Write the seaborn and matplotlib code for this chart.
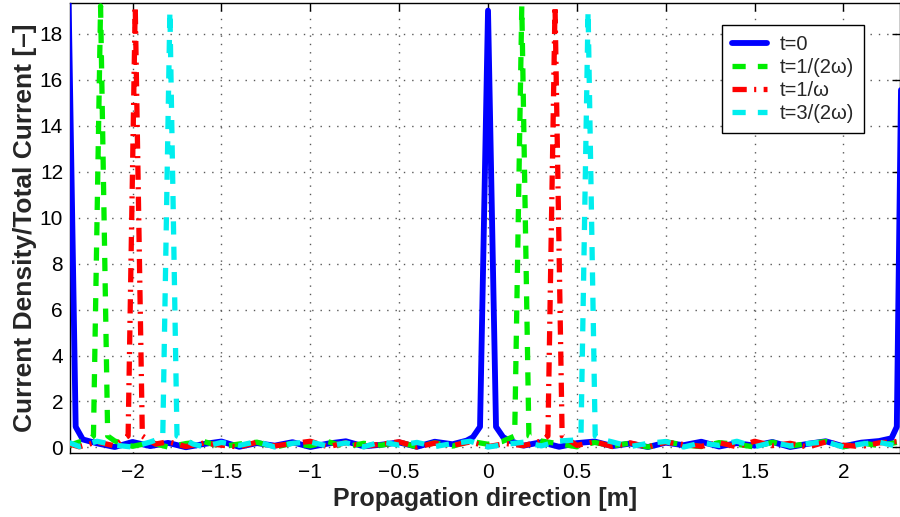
import numpy as np
import pandas as pd
import matplotlib
matplotlib.use("Agg")
import matplotlib.pyplot as plt
import seaborn as sns

# ---- data ----
labels = ["t=0", "t=1/(2\u03c9)", "t=1/\u03c9", "t=3/(2\u03c9)"]

x_t0 = [-2.36, -2.32, -2.28,
        -2.2, -2.1, -2.0, -1.9, -1.8, -1.7, -1.6, -1.5, -1.4, -1.3, -1.2,
        -1.1, -1.0, -0.9, -0.8, -0.7, -0.6, -0.5, -0.4, -0.3, -0.2,
        -0.12, -0.085, -0.045, 0.0, 0.045, 0.085, 0.12,
        0.2, 0.3, 0.4, 0.5, 0.6, 0.7, 0.8, 0.9, 1.0, 1.1, 1.2, 1.3, 1.4,
        1.5, 1.6, 1.7, 1.8, 1.9, 2.0, 2.1, 2.2,
        2.27, 2.30, 2.33]
y_t0 = [19.5, 0.9, 0.35,
        0.18, 0.02, 0.24, 0.06, 0.20, 0.01, 0.15, 0.26, 0.03, 0.19, 0.08,
        0.23, 0.02, 0.17, 0.27, 0.05, 0.12, 0.22, 0.03, 0.25, 0.14,
        0.3, 0.45, 0.9, 19.0, 0.9, 0.45, 0.3,
        0.08, 0.23, 0.03, 0.19, 0.26, 0.06, 0.17, 0.02, 0.21, 0.10, 0.25,
        0.04, 0.19, 0.08, 0.24, 0.02, 0.16, 0.27, 0.05, 0.21, 0.28,
        0.4, 0.9, 19.5]

x_t1 = [-2.36, -2.3, -2.25, -2.22, -2.18, -2.14, -2.1,
        -2.0, -1.9, -1.8, -1.7, -1.6, -1.5, -1.4, -1.3, -1.2, -1.1, -1.0,
        -0.9, -0.8, -0.7, -0.6, -0.5, -0.4, -0.3, -0.2, -0.1, 0.0,
        0.08, 0.15, 0.19, 0.23,
        0.3, 0.4, 0.5, 0.6, 0.7, 0.8, 0.9, 1.0, 1.1, 1.2, 1.3, 1.4, 1.5,
        1.6, 1.7, 1.8, 1.9, 2.0, 2.1, 2.2, 2.3]
y_t1 = [0.08, 0.24, 0.30, 0.5, 19.2, 0.5, 0.28,
        0.05, 0.21, 0.02, 0.17, 0.26, 0.04, 0.15, 0.23, 0.01, 0.19, 0.07,
        0.25, 0.03, 0.18, 0.10, 0.24, 0.02, 0.20, 0.06, 0.27, 0.14,
        0.26, 0.5, 19.2, 0.5,
        0.28, 0.16, 0.03, 0.22, 0.07, 0.19, 0.02, 0.25, 0.11, 0.04, 0.21,
        0.14, 0.02, 0.23, 0.06, 0.17, 0.26, 0.03, 0.20, 0.08, 0.22]

x_t2 = [-2.36, -2.3, -2.2, -2.1, -2.06, -2.025, -1.985, -1.945, -1.91, -1.87,
        -1.8, -1.7, -1.6, -1.5, -1.4, -1.3, -1.2, -1.1, -1.0, -0.9, -0.8,
        -0.7, -0.6, -0.5, -0.4, -0.3, -0.2, -0.1, 0.0, 0.1, 0.2,
        0.3, 0.337, 0.377, 0.417, 0.46,
        0.5, 0.6, 0.7, 0.8, 0.9, 1.0, 1.1, 1.2, 1.3, 1.4, 1.5, 1.6, 1.7,
        1.8, 1.9, 2.0, 2.1, 2.2, 2.3]
y_t2 = [0.16, 0.03, 0.24, 0.07, 0.30, 0.5, 19.2, 0.5, 0.32, 0.15,
        0.25, 0.04, 0.19, 0.10, 0.02, 0.23, 0.07, 0.17, 0.27, 0.03, 0.21,
        0.06, 0.14, 0.25, 0.02, 0.19, 0.09, 0.24, 0.04, 0.17, 0.08,
        0.28, 0.5, 19.2, 0.5, 0.30,
        0.09, 0.25, 0.04, 0.20, 0.02, 0.23, 0.13, 0.05, 0.21, 0.03, 0.27,
        0.08, 0.18, 0.02, 0.24, 0.10, 0.04, 0.20, 0.26]

x_t3 = [-2.36, -2.3, -2.2, -2.1, -2.0, -1.9, -1.86, -1.83, -1.79, -1.75,
        -1.71, -1.66,
        -1.6, -1.5, -1.4, -1.3, -1.2, -1.1, -1.0, -0.9, -0.8, -0.7, -0.6,
        -0.5, -0.4, -0.3, -0.2, -0.1, 0.0, 0.1, 0.2, 0.3, 0.4,
        0.48, 0.523, 0.563, 0.603, 0.64,
        0.7, 0.8, 0.9, 1.0, 1.1, 1.2, 1.3, 1.4, 1.5, 1.6, 1.7, 1.8, 1.9,
        2.0, 2.1, 2.2, 2.3]
y_t3 = [0.22, 0.04, 0.27, 0.10, 0.02, 0.24, 0.35, 0.5, 19.0, 0.5,
        0.35, 0.15,
        0.03, 0.22, 0.09, 0.26, 0.02, 0.18, 0.24, 0.06, 0.20, 0.03, 0.25,
        0.10, 0.22, 0.04, 0.17, 0.27, 0.02, 0.14, 0.23, 0.07, 0.28,
        0.32, 0.5, 19.0, 0.5, 0.35,
        0.24, 0.04, 0.18, 0.26, 0.02, 0.20, 0.09, 0.27, 0.03, 0.22, 0.07,
        0.17, 0.25, 0.02, 0.15, 0.23, 0.06]

x_ticks = [-2, -1.5, -1, -0.5, 0, 0.5, 1, 1.5, 2]
x_ticklabels = ["\u22122", "\u22121.5", "\u22121", "\u22120.5", "0", "0.5", "1", "1.5", "2"]
y_ticks = [0, 2, 4, 6, 8, 10, 12, 14, 16, 18]

# ---- build long-form table ----
frames = []
for lab, xs, ys in zip(labels, [x_t0, x_t1, x_t2, x_t3], [y_t0, y_t1, y_t2, y_t3]):
    frames.append(pd.DataFrame({"x": xs, "y": ys, "series": lab}))
df = pd.concat(frames, ignore_index=True)

colors = {labels[0]: "#0000ff", labels[1]: "#00ee00",
          labels[2]: "#ff0000", labels[3]: "#00eeee"}
dash_map = {labels[0]: "", labels[1]: (2.5, 2.3),
            labels[2]: (2.7, 1.4, 0.4, 1.4), labels[3]: (2.5, 2.3)}

sns.set_style("white")
plt.rcParams["font.family"] = ["Liberation Sans", "DejaVu Sans"]
plt.rcParams["axes.unicode_minus"] = True

fig = plt.figure(figsize=(9, 5.17), dpi=100)
ax = fig.add_axes([70 / 900, 1 - 453 / 517, 830 / 900, 450 / 517])

sns.lineplot(data=df, x="x", y="y", hue="series", style="series",
             hue_order=labels, style_order=labels, palette=colors,
             dashes=dash_map, sort=False, estimator=None,
             linewidth=3.8, legend=False, ax=ax, zorder=3)
for ln in ax.lines:
    ln.set_dash_capstyle("butt")
    ln.set_solid_joinstyle("round")
ax.lines[0].set_linewidth(4.2)

ax.set_xlim(-2.352, 2.318)
ax.set_ylim(-0.24, 19.33)
ax.set_xticks(x_ticks)
ax.set_xticklabels(x_ticklabels)
ax.set_yticks(y_ticks)
ax.tick_params(axis="both", direction="in", length=6, width=1,
               labelsize=15, colors="black", top=True, right=True)
ax.tick_params(axis="x", pad=7)
ax.tick_params(axis="y", pad=5)

ax.grid(True, color="0.35", linestyle=(0, (1, 5)), linewidth=1.0)
ax.set_axisbelow(True)
for s in ax.spines.values():
    s.set_color("black")
    s.set_linewidth(1.0)

ax.set_xlabel("Propagation direction [m]", fontsize=18, fontweight="bold", labelpad=4)
ax.set_ylabel("Current Density/Total Current [\u2013]", fontsize=19,
              fontweight="bold", labelpad=2)

leg = ax.legend(ax.lines[:4], labels, loc="upper right",
                bbox_to_anchor=(0.9566, 0.951), borderaxespad=0,
                frameon=True, fancybox=False, framealpha=1,
                edgecolor="black", fontsize=14.5, handlelength=1.75,
                handletextpad=0.6, labelspacing=0.2, borderpad=0.5)
leg.get_frame().set_linewidth(1.0)

fig.savefig("out.png", dpi=100)
